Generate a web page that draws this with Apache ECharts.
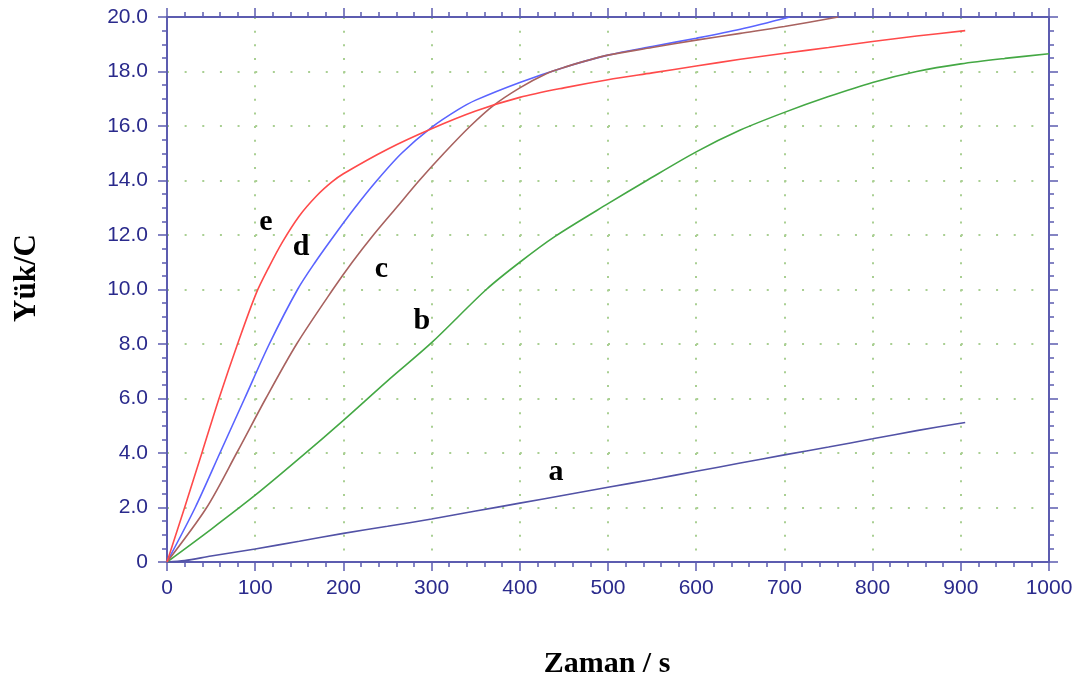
<!DOCTYPE html>
<html>
<head>
<meta charset="utf-8">
<title>Yük - Zaman</title>
<script src="https://cdn.jsdelivr.net/npm/echarts@6/dist/echarts.min.js"></script>
<style>
  html, body { margin: 0; padding: 0; background: #ffffff; }
  #chart { width: 1081px; height: 681px; }
</style>
</head>
<body>
<div id="chart"></div>
<script>
// Charge (C) against time (s) for five runs, a–e
const curveA = [[0,0],[20,0.05],[50,0.22],[100,0.48],[150,0.76],[200,1.05],[250,1.31],[300,1.58],[350,1.87],[400,2.16],[450,2.45],[500,2.74],[550,3.03],[600,3.33],[650,3.63],[700,3.93],[750,4.22],[800,4.52],[850,4.82],[905,5.12]];
const curveB = [[0,0],[50,1.2],[100,2.45],[150,3.8],[200,5.2],[250,6.65],[300,8.05],[362,10.0],[400,11.0],[440,11.95],[500,13.15],[544,14.0],[600,15.05],[650,15.85],[700,16.5],[750,17.08],[800,17.6],[850,18.0],[900,18.28],[950,18.48],[1000,18.65]];
const curveC = [[0,0],[45,2],[79,4],[112,6],[147,8],[188,10],[210,11],[234,12],[260,13],[286,14],[314,15],[344,16],[370,16.75],[400,17.4],[430,17.92],[450,18.15],[500,18.6],[550,18.88],[600,19.15],[650,19.4],[700,19.65],[761,20]];
const curveD = [[0,0],[32,2],[60,4],[88,6],[116,8],[148,10],[168,11],[190,12],[213,13],[238,14],[266,15],[300,15.95],[330,16.6],[350,16.95],[400,17.6],[450,18.15],[500,18.6],[550,18.92],[600,19.22],[650,19.55],[706,20]];
const curveE = [[0,0],[20,2],[40,4.05],[60,6.1],[80,8.0],[101,9.85],[116,10.85],[131,11.75],[150,12.7],[170,13.45],[187,13.95],[200,14.25],[250,15.15],[300,15.9],[350,16.55],[400,17.05],[450,17.4],[500,17.7],[550,17.95],[600,18.2],[650,18.45],[700,18.67],[750,18.88],[800,19.1],[850,19.3],[905,19.5]];

// Curve names and where each letter sits, in data units [s, C]
const curveNames = ['a', 'b', 'c', 'd', 'e'];
const labelAt = { a: [441, 3.3], b: [289, 8.84], c: [243, 10.75], d: [152, 11.56], e: [112, 12.48] };

const xTicks = { min: 0, max: 1000, interval: 100 };
const yTicks = { min: 0, max: 20, interval: 2 };

const colors = { a: '#5252a6', b: '#44a844', c: '#a8625f', d: '#5a64ff', e: '#ff4a4a' };
const axisColor = '#5c5cb0';
const labelColor = '#2a2a8c';
const dotColor = '#a9cf92';

const chart = echarts.init(document.getElementById('chart'), null, { renderer: 'canvas' });

const grid = { left: 167, top: 17, right: 32, bottom: 119 };
const plotW = 1081 - grid.left - grid.right;
const plotH = 681 - grid.top - grid.bottom;
// dotted grid: one dot per minor tick step
const xStepPx = plotW / 50;
const yStepPx = plotH / 40;

const tickFont = 'Liberation Sans, Arial, sans-serif';

function xAxisBase(pos, main) {
  return {
    type: 'value', position: pos, min: xTicks.min, max: xTicks.max, interval: xTicks.interval,
    axisLine: { show: true, onZero: false, lineStyle: { color: axisColor, width: 2 } },
    axisTick: { show: true, inside: false, length: 9, lineStyle: { color: axisColor, width: 1.5 } },
    minorTick: { show: true, splitNumber: 5, length: 5, lineStyle: { color: axisColor, width: 1.5 } },
    axisLabel: main ? {
      show: true, margin: 16, color: labelColor, fontSize: 21, fontFamily: tickFont,
      formatter: v => String(v)
    } : { show: false },
    splitLine: main ? { show: true, lineStyle: { color: dotColor, width: 2, type: [2, yStepPx - 2] } } : { show: false },
    minorSplitLine: { show: false }
  };
}
function yAxisBase(pos, main) {
  return {
    type: 'value', position: pos, min: yTicks.min, max: yTicks.max, interval: yTicks.interval,
    axisLine: { show: true, onZero: false, lineStyle: { color: axisColor, width: 2 } },
    axisTick: { show: true, inside: false, length: 9, lineStyle: { color: axisColor, width: 1.5 } },
    minorTick: { show: true, splitNumber: 4, length: 5, lineStyle: { color: axisColor, width: 1.5 } },
    axisLabel: main ? {
      show: true, margin: 19, color: labelColor, fontSize: 21, fontFamily: tickFont,
      formatter: v => (v === 0 ? '0' : v.toFixed(1))
    } : { show: false },
    splitLine: main ? { show: true, lineStyle: { color: dotColor, width: 2, type: [2, xStepPx - 2] } } : { show: false },
    minorSplitLine: { show: false }
  };
}

const dataByName = { a: curveA, b: curveB, c: curveC, d: curveD, e: curveE };
// draw order: a, b, d, c, e so the brown run sits above the blue one where they merge
const drawOrder = ['a', 'b', 'd', 'c', 'e'];

chart.setOption({
  animation: false,
  backgroundColor: '#ffffff',
  grid: grid,
  xAxis: [xAxisBase('bottom', true), xAxisBase('top', false)],
  yAxis: [yAxisBase('left', true), yAxisBase('right', false)],
  series: drawOrder.map(n => ({
    name: n, type: 'line', xAxisIndex: 0, yAxisIndex: 0,
    data: dataByName[n], smooth: 0.3, showSymbol: false, symbol: 'none',
    lineStyle: { color: colors[n], width: 1.6 }, z: 3
  }))
});

// axis titles and curve letters
const serif = 'Liberation Serif, "Times New Roman", serif';
const texts = curveNames.map(n => {
  const p = chart.convertToPixel({ xAxisIndex: 0, yAxisIndex: 0 }, labelAt[n]);
  return {
    type: 'text', x: p[0], y: p[1], z: 10,
    style: { text: n, font: 'bold 30px ' + serif, fill: '#000', align: 'center', verticalAlign: 'middle' }
  };
});
texts.push({
  type: 'text', x: 607, y: 664, z: 10,
  style: { text: 'Zaman / s', font: 'bold 30px ' + serif, fill: '#000', align: 'center', verticalAlign: 'middle' }
});
texts.push({
  type: 'text', x: 27, y: 278, rotation: Math.PI / 2, z: 10,
  style: { text: 'Yük/C', font: 'bold 31px ' + serif, fill: '#000', align: 'center', verticalAlign: 'middle' }
});
chart.setOption({ graphic: texts });
</script>
</body>
</html>
